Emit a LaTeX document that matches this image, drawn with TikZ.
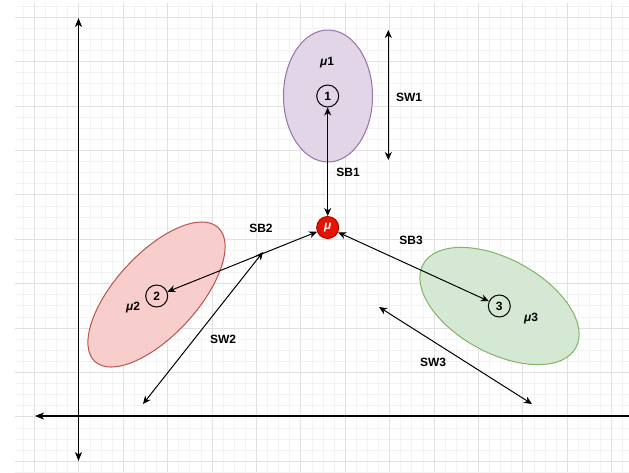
\documentclass[tikz,border=0pt]{standalone}
\usepackage{fontspec}
\setmainfont{Liberation Sans}
\usetikzlibrary{arrows.meta,shapes.geometric}
\definecolor{purpfill}{HTML}{E1D5E7}
\definecolor{purpline}{HTML}{9673A6}
\definecolor{redfill}{HTML}{F8CECC}
\definecolor{redline}{HTML}{B85450}
\definecolor{greenfill}{HTML}{D5E8D4}
\definecolor{greenline}{HTML}{82B366}
\definecolor{murfill}{HTML}{E51400}
\definecolor{murline}{HTML}{B20000}
\definecolor{gridmajor}{HTML}{E0E0E0}
\definecolor{gridminor}{HTML}{F3F3F3}
\tikzset{
  minorline/.style={draw=gridminor,line width=1pt},
  majorline/.style={draw=gridmajor,line width=1pt},
  cluster/.style={ellipse,line width=1pt,inner sep=0pt},
  meanbox/.style={circle,draw=black,line width=1pt,minimum size=22pt,inner sep=0pt,font=\fontsize{12}{13}\selectfont\bfseries},
  lbl/.style={font=\fontsize{12}{14}\selectfont\bfseries,inner sep=0pt},
  conn/.style={line width=1pt,{Stealth[length=8pt,width=7pt,inset=2.5pt]}-{Stealth[length=8pt,width=7pt,inset=2.5pt]}},
  axisline/.style={line width=1.2pt}
}
\begin{document}
\begin{tikzpicture}[x=1pt,y=-1pt]
\useasboundingbox[fill=white] (0,0) rectangle (629,472);
% grid
\begin{scope}
\clip (15,3) rectangle (629,472);
\foreach \i in {0,...,57} {
  \draw[minorline] ({12.3+11.1*\i},0) -- ({12.3+11.1*\i},472);
}
\foreach \i in {0,...,43} {
  \draw[minorline] (0,{6.2+11.1*\i}) -- (629,{6.2+11.1*\i});
}
\foreach \i in {0,...,14} {
  \draw[majorline] ({34.5+44.4*\i},0) -- ({34.5+44.4*\i},472);
}
\foreach \i in {0,...,11} {
  \draw[majorline] (0,{17.3+44.4*\i}) -- (629,{17.3+44.4*\i});
}
\end{scope}
% axes
\coordinate (ytop) at (78.5,18);
\coordinate (ybot) at (78.5,461);
\coordinate (xleft) at (35,416);
\coordinate (xright) at (632,416);
\draw[axisline,{Stealth[length=9pt,width=7pt,inset=2.5pt]}-{Stealth[length=9pt,width=7pt,inset=2.5pt]}] (ybot) -- (ytop);
\draw[axisline,-{Stealth[length=9pt,width=7pt,inset=2.5pt]}] (xright) -- (xleft);
% clusters
\node[cluster,fill=purpfill,draw=purpline,minimum width=89pt,minimum height=132pt] (e1) at (328,96) {};
\node[cluster,fill=redfill,draw=redline,minimum width=182pt,minimum height=82pt,rotate=47.4] (e2) at (156.5,294.5) {};
\node[cluster,fill=greenfill,draw=greenline,minimum width=174pt,minimum height=94pt,rotate=-28.6] (e3) at (499.5,306) {};
% means
\node[meanbox] (c1) at (327.7,96) {1};
\node[meanbox] (c2) at (156.7,296) {2};
\node[meanbox] (c3) at (499.3,306) {3};
\node[circle,fill=murfill,draw=murline,line width=1pt,minimum size=22pt,inner sep=0pt,text=white,font=\fontsize{12}{14}\selectfont\bfseries\itshape] (mu) at (327.7,227.5) {μ};
% labels
\node[lbl] (l1) at (327,63) {\itshape μ\upshape 1};
\node[lbl] (l2) at (133,308) {\itshape μ\upshape 2};
\node[lbl] (l3) at (531,319) {\itshape μ\upshape 3};
\node[lbl] (sb1) at (348,172) {SB1};
\node[lbl] (sb2) at (261,228) {SB2};
\node[lbl] (sb3) at (411,240) {SB3};
\node[lbl] (sw1) at (409,97) {SW1};
\node[lbl] (sw2) at (223,339) {SW2};
\node[lbl] (sw3) at (433,362) {SW3};
% between connectors
\draw[conn] (c1) -- (mu);
\draw[conn] (mu) -- (c2);
\draw[conn] (mu) -- (c3);
% within spreads
\coordinate (sw1a) at (388.3,30);
\coordinate (sw1b) at (388.3,160);
\coordinate (sw2a) at (263,252);
\coordinate (sw2b) at (143,404);
\coordinate (sw3a) at (379,307);
\coordinate (sw3b) at (532,404);
\draw[conn] (sw1a) -- (sw1b);
\draw[conn] (sw2a) -- (sw2b);
\draw[conn] (sw3a) -- (sw3b);
\end{tikzpicture}
\end{document}
